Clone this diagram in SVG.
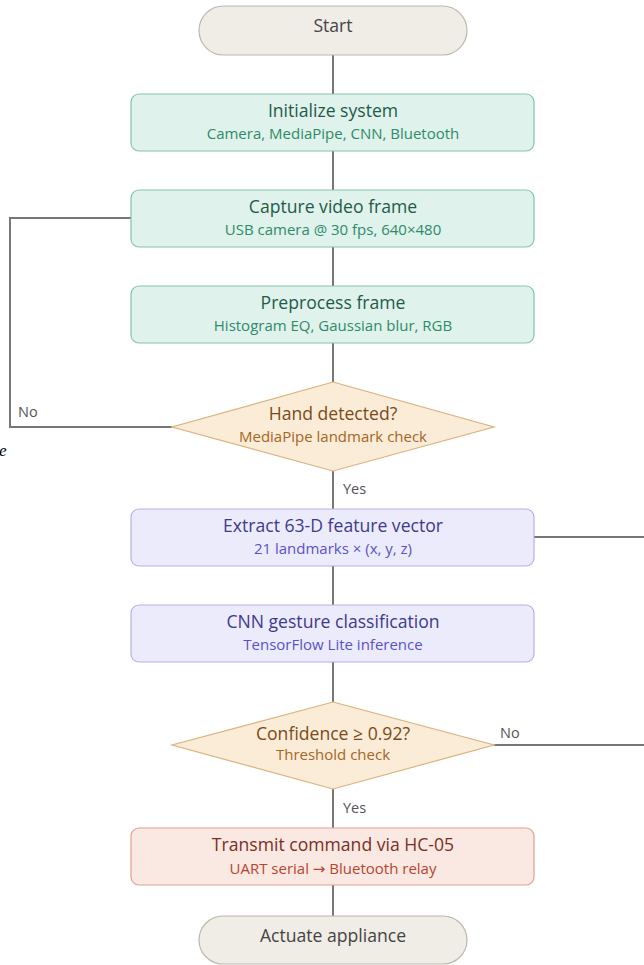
<svg xmlns="http://www.w3.org/2000/svg" width="644" height="965" viewBox="0 0 644 965">
<style>
text{font-family:"Open Sans","Noto Sans","DejaVu Sans",sans-serif;text-anchor:middle}
.t{font-size:17.6px}
.s{font-size:15px}
.lbl{font-size:14.5px;fill:#555;text-anchor:start}
.term rect{fill:#f0ede6;stroke:#bdb8ae;stroke-width:1.2}
.term text{fill:#444}
.g rect{fill:#dff2eb;stroke:#86c4aa;stroke-width:1.2}
.g .t{fill:#1f5b49}.g .s{fill:#2f8a69}
.p rect{fill:#ecebfb;stroke:#b5b0ea;stroke-width:1.2}
.p .t{fill:#3e3a8c}.p .s{fill:#5a52c8}
.d polygon{fill:#fbecd8;stroke:#dbb27c;stroke-width:1.2}
.d .t{fill:#7a4a18}.d .s{fill:#a4661f}
.r rect{fill:#fae8e3;stroke:#dfa192;stroke-width:1.2}
.r .t{fill:#7b2f21}.r .s{fill:#b4462f}
#connectors path{fill:none;stroke:#777;stroke-width:2}
</style>
<g id="connectors">
<path d="M333 55V94M333 151V190M333 247V286M333 343V382M333 471V509M333 566V605M333 662V702M333 789V828M333 885V916"/>
<path d="M172 427H10V218H131"/>
<path d="M534 537H644"/>
<path d="M494 745H644"/>
<text class="lbl" x="18" y="417">No</text>
<text class="lbl" x="343" y="494">Yes</text>
<text class="lbl" x="500" y="738">No</text>
<text class="lbl" x="343" y="813">Yes</text>
</g>
<g id="start" class="term"><rect x="199" y="6" width="268" height="49" rx="24.5"/><text class="t" x="333" y="32">Start</text></g>
<g id="init" class="g"><rect x="131" y="94" width="403" height="57" rx="8"/><text class="t" x="333" y="117">Initialize system</text><text class="s" x="333" y="138.5">Camera, MediaPipe, CNN, Bluetooth</text></g>
<g id="capture" class="g"><rect x="131" y="190" width="403" height="57" rx="8"/><text class="t" x="333" y="213">Capture video frame</text><text class="s" x="333" y="234.5">USB camera @ 30 fps, 640×480</text></g>
<g id="preprocess" class="g"><rect x="131" y="286" width="403" height="57" rx="8"/><text class="t" x="333" y="309">Preprocess frame</text><text class="s" x="333" y="330.5">Histogram EQ, Gaussian blur, RGB</text></g>
<g id="hand" class="d"><polygon points="333,382 494,427 333,471 172,427"/><text class="t" x="333" y="420">Hand detected?</text><text class="s" x="333" y="441.5">MediaPipe landmark check</text></g>
<g id="extract" class="p"><rect x="131" y="509" width="403" height="57" rx="8"/><text class="t" x="333" y="532">Extract 63-D feature vector</text><text class="s" x="333" y="553.5">21 landmarks × (x, y, z)</text></g>
<g id="cnn" class="p"><rect x="131" y="605" width="403" height="57" rx="8"/><text class="t" x="333" y="628">CNN gesture classification</text><text class="s" x="333" y="650">TensorFlow Lite inference</text></g>
<g id="conf" class="d"><polygon points="333,702 494,745 333,789 172,745"/><text class="t" x="333" y="740">Confidence ≥ 0.92?</text><text class="s" x="333" y="759.5">Threshold check</text></g>
<g id="transmit" class="r"><rect x="131" y="828" width="403" height="57" rx="8"/><text class="t" x="333" y="851">Transmit command via HC-05</text><text class="s" x="333" y="873.5">UART serial → Bluetooth relay</text></g>
<g id="actuate" class="term"><rect x="199" y="916" width="268" height="48" rx="24"/><text class="t" x="333" y="942">Actuate appliance</text></g>
<text x="-1" y="456" style="font-family:'Liberation Serif',serif;font-style:italic;font-size:17px;text-anchor:start;fill:#000">e</text>
</svg>
